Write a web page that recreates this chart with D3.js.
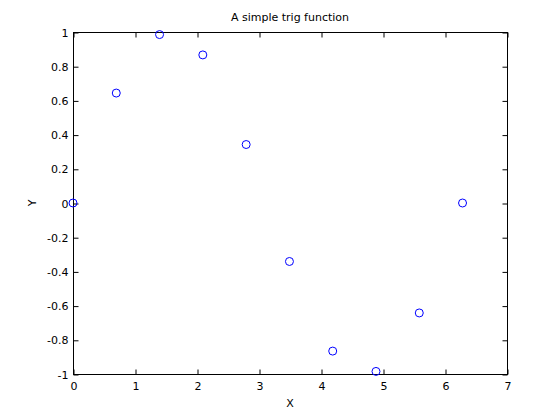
<!DOCTYPE html>
<html>
<head>
  <meta charset="UTF-8">
  <script src="https://d3js.org/d3.v7.min.js"></script>
  <style>
    body { margin: 0; background: #fff; }
    text { font-family: "DejaVu Sans", sans-serif; font-size: 11px; fill: #000; }
  </style>
</head>
<body>
<script>
// sample points
var xVals = [0, 0.698, 1.396, 2.094, 2.793, 3.491, 4.189, 4.887, 5.585, 6.283];
var yVals = [0, 0.643, 0.985, 0.866, 0.342, -0.342, -0.866, -0.985, -0.643, 0];
var xTicks = [0, 1, 2, 3, 4, 5, 6, 7];
var yTicks = [-1, -0.8, -0.6, -0.4, -0.2, 0, 0.2, 0.4, 0.6, 0.8, 1];

(function () {
  var W = 560, H = 420;
  var pl = 73, pr = 507, pt = 32, pb = 374;

  var svg = d3.select('body').append('svg')
    .attr('width', W).attr('height', H);

  var x = d3.scaleLinear().domain([0, 7]).range([pl, pr]);
  var y = d3.scaleLinear().domain([-1, 1]).range([pb, pt]);

  var fmt = function (d) { return String(d); };

  // box
  svg.append('rect')
    .attr('x', pl + 0.5).attr('y', pt + 0.5)
    .attr('width', pr - pl).attr('height', pb - pt)
    .attr('fill', 'none').attr('stroke', '#000');

  // axes with inward ticks
  var xb = svg.append('g').attr('transform', 'translate(0.5,' + (pb + 0.5) + ')')
    .call(d3.axisBottom(x).tickValues(xTicks).tickSizeInner(-5).tickSizeOuter(0).tickPadding(8).tickFormat(fmt));
  var xt = svg.append('g').attr('transform', 'translate(0.5,' + (pt + 0.5) + ')')
    .call(d3.axisTop(x).tickValues(xTicks).tickSizeInner(-5).tickSizeOuter(0).tickFormat(''));
  var yl = svg.append('g').attr('transform', 'translate(' + (pl + 0.5) + ',0.5)')
    .call(d3.axisLeft(y).tickValues(yTicks).tickSizeInner(-5).tickSizeOuter(0).tickPadding(5).tickFormat(fmt));
  var yr = svg.append('g').attr('transform', 'translate(' + (pr + 0.5) + ',0.5)')
    .call(d3.axisRight(y).tickValues(yTicks).tickSizeInner(-5).tickSizeOuter(0).tickFormat(''));

  [xb, xt, yl, yr].forEach(function (g) {
    g.attr('font-family', null).attr('font-size', null);
    g.select('.domain').remove();
    g.selectAll('line').attr('stroke', '#000');
    g.selectAll('text').attr('fill', '#000');
  });

  // points
  svg.append('g').selectAll('circle')
    .data(xVals)
    .enter().append('circle')
    .attr('cx', function (d) { return x(d); })
    .attr('cy', function (d, i) { return y(yVals[i]); })
    .attr('r', 4)
    .attr('fill', 'none')
    .attr('stroke', '#0000ff')
    .attr('stroke-width', 1);

  // labels and title
  svg.append('text')
    .attr('x', (pl + pr) / 2).attr('y', 21)
    .style('text-anchor', 'middle')
    .text('A simple trig function');

  svg.append('text')
    .attr('x', (pl + pr) / 2).attr('y', 407)
    .style('text-anchor', 'middle')
    .text('X');

  svg.append('text')
    .attr('transform', 'translate(36,' + ((pt + pb) / 2) + ') rotate(-90)')
    .style('text-anchor', 'middle')
    .text('Y');
})();
</script>
</body>
</html>
